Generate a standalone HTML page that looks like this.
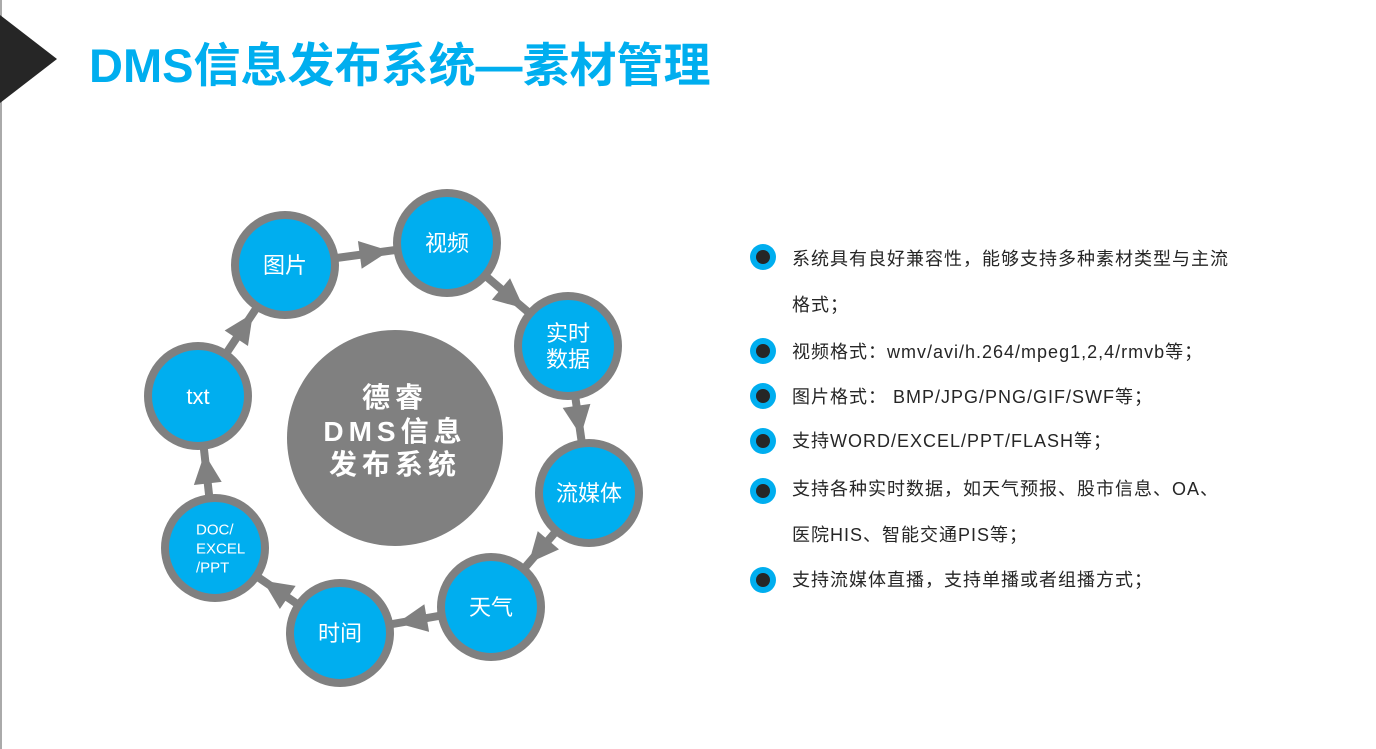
<!DOCTYPE html>
<html><head><meta charset="utf-8"><style>
body{margin:0;width:1376px;height:749px;background:#fff;position:relative;overflow:hidden;font-family:"Liberation Sans","Noto Sans CJK SC",sans-serif}
.t{position:absolute;left:89px;top:27px;font-size:47px;font-weight:bold;color:#00aeef;white-space:nowrap}
.b{position:absolute;left:750px;width:26px;height:26px;border-radius:50%;background:#00aeef}
.b:after{content:"";position:absolute;left:6px;top:6px;width:14px;height:14px;border-radius:50%;background:#262626}
.l{position:absolute;left:792px;font-size:18px;color:#262626;white-space:nowrap;line-height:24px;letter-spacing:1px}
</style></head><body>
<div style="position:absolute;left:0;top:0;width:2px;height:749px;background:#aaa"></div>
<svg style="position:absolute;left:0;top:0" width="80" height="110"><polygon points="0,15 57,59 0,103" fill="#262626"/></svg>
<div class="t">DMS信息发布系统—素材管理</div>
<svg id="d" style="position:absolute;left:0;top:0" width="720" height="749"></svg>
<div class="b" style="top:244px"></div><div class="l" style="top:247px">系统具有良好兼容性，能够支持多种素材类型与主流</div>
<div class="l" style="top:293px">格式；</div>
<div class="b" style="top:338px"></div><div class="l" style="top:340px">视频格式：wmv/avi/h.264/mpeg1,2,4/rmvb等；</div>
<div class="b" style="top:383px"></div><div class="l" style="top:385px">图片格式： BMP/JPG/PNG/GIF/SWF等；</div>
<div class="b" style="top:428px"></div><div class="l" style="top:429px">支持WORD/EXCEL/PPT/FLASH等；</div>
<div class="b" style="top:478px"></div><div class="l" style="top:477px">支持各种实时数据，如天气预报、股市信息、OA、</div>
<div class="l" style="top:523px">医院HIS、智能交通PIS等；</div>
<div class="b" style="top:567px"></div><div class="l" style="top:568px">支持流媒体直播，支持单播或者组播方式；</div>
<script>
var N=[[285,265,["图片"],22],[447,243,["视频"],22],[568,346,["实时","数据"],22],[589,493,["流媒体"],22],[491,607,["天气"],22],[340,633,["时间"],22],[215,548,["DOC/","EXCEL","/PPT"],15],[198,396,["txt"],22]];
var s='';
for(var i=0;i<8;i++){var a=N[i],b=N[(i+1)%8];var dx=b[0]-a[0],dy=b[1]-a[1],L=Math.hypot(dx,dy),ux=dx/L,uy=dy/L;
var x1=a[0]+ux*50,y1=a[1]+uy*50,x2=b[0]-ux*50,y2=b[1]-uy*50;
s+='<line x1="'+x1+'" y1="'+y1+'" x2="'+x2+'" y2="'+y2+'" stroke="#808080" stroke-width="8"/>';
var tx=b[0]-ux*58,ty=b[1]-uy*58,bx=tx-ux*30,by=ty-uy*30,px=-uy*14,py=ux*14;
s+='<polygon points="'+tx+','+ty+' '+(bx+px)+','+(by+py)+' '+(bx-px)+','+(by-py)+'" fill="#808080"/>';}
s+='<circle cx="395" cy="438" r="108" fill="#808080"/>';
s+='<text x="395" y="407" text-anchor="middle" font-size="28" font-weight="bold" fill="#fff" letter-spacing="5">德睿</text>';
s+='<text x="395" y="441" text-anchor="middle" font-size="28" font-weight="bold" fill="#fff" letter-spacing="5">DMS信息</text>';
s+='<text x="395" y="474" text-anchor="middle" font-size="28" font-weight="bold" fill="#fff" letter-spacing="5">发布系统</text>';
for(var i=0;i<8;i++){var n=N[i];s+='<circle cx="'+n[0]+'" cy="'+n[1]+'" r="50" fill="#00aeef" stroke="#808080" stroke-width="8"/>';
var k=n[2].length,lh=n[3]+4;for(var j=0;j<k;j++){var y=n[1]+(j-(k-1)/2)*lh+n[3]*0.36;
s+='<text x="'+(k==3?n[0]-19:n[0])+'" y="'+y+'" text-anchor="'+(k==3?'start':'middle')+'" font-size="'+n[3]+'" fill="#fff">'+n[2][j]+'</text>';}}
document.getElementById('d').innerHTML=s;
</script>
</body></html>
